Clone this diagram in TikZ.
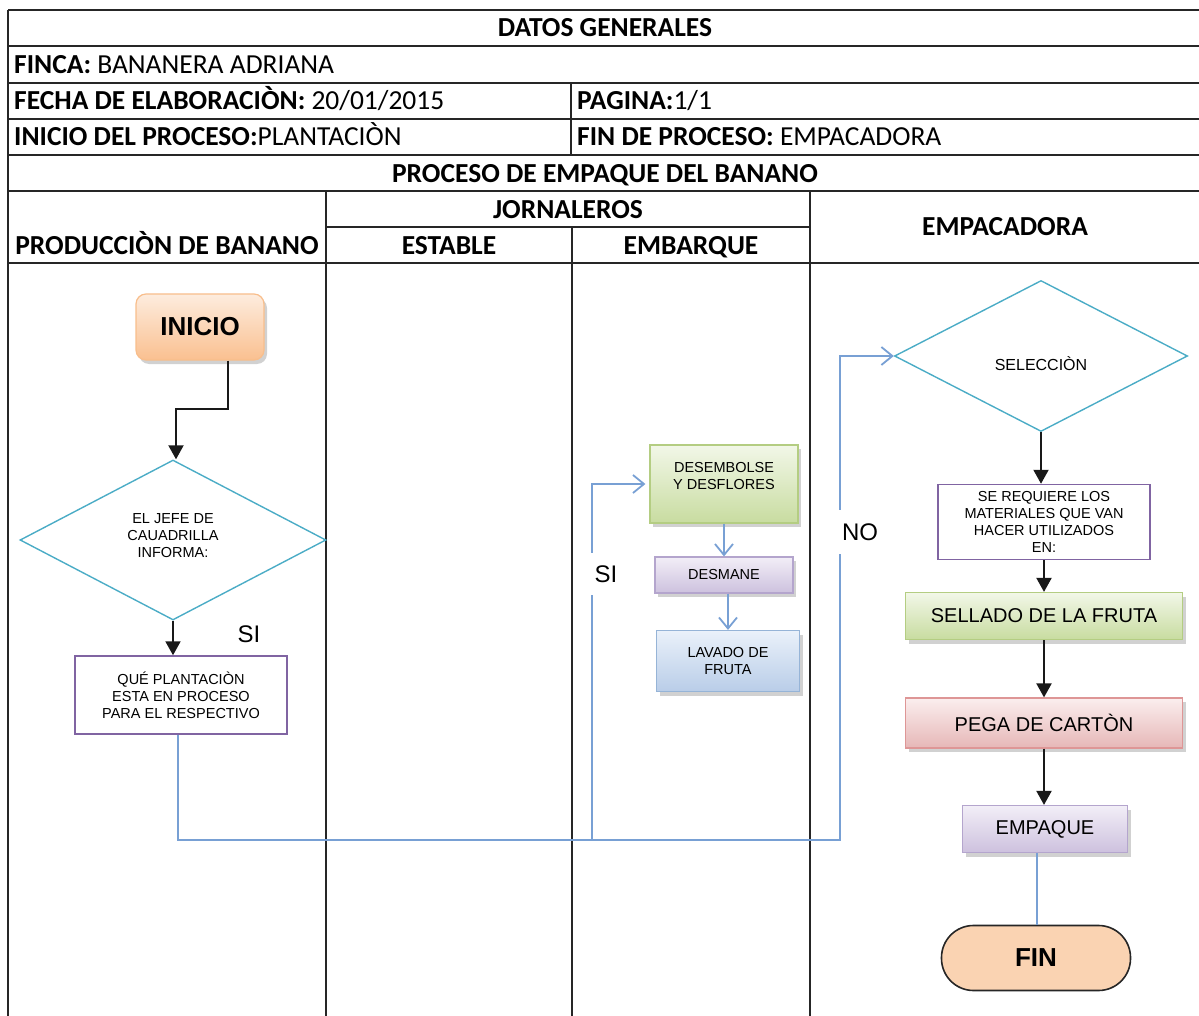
\documentclass[tikz,border=0pt]{standalone}
\usepackage{fontspec}
\setmainfont{Carlito}
\newfontfamily\arialf{Liberation Sans}
\usetikzlibrary{shapes.geometric,arrows.meta,shadows,calc}
\definecolor{cyanln}{RGB}{75,172,198}
\definecolor{purpln}{RGB}{128,100,162}
\definecolor{bluln}{RGB}{120,160,212}
\definecolor{gTop}{RGB}{242,247,232}
\definecolor{gBot}{RGB}{200,220,160}
\definecolor{gLn}{RGB}{180,205,130}
\definecolor{vTop}{RGB}{242,238,247}
\definecolor{vBot}{RGB}{205,193,222}
\definecolor{vLn}{RGB}{180,165,205}
\definecolor{bTop}{RGB}{234,241,250}
\definecolor{bBot}{RGB}{185,205,232}
\definecolor{bLn}{RGB}{150,180,215}
\definecolor{rTop}{RGB}{251,238,238}
\definecolor{rBot}{RGB}{230,183,183}
\definecolor{rLn}{RGB}{222,150,150}
\definecolor{oTop}{RGB}{253,236,222}
\definecolor{oBot}{RGB}{250,192,144}
\definecolor{oLn}{RGB}{248,190,140}
\definecolor{finFill}{RGB}{250,211,178}
\begin{document}
\begin{tikzpicture}[x=1pt,y=-1pt,
  tl/.style={line width=1.6pt, black!85},
  hb/.style={font=\fontsize{27.5}{30}\selectfont\bfseries, inner sep=0pt, anchor=base},
  hc/.style={font=\fontsize{27.5}{30}\selectfont, inner sep=0pt, anchor=base west},
  ft/.style={font=\arialf\fontsize{14.5}{17}\selectfont, align=center, inner sep=0pt},
  bigt/.style={font=\arialf\fontsize{20}{24}\selectfont, align=center, inner sep=0pt},
  dec/.style={diamond, draw=cyanln, line width=1.4pt, inner sep=0pt},
  pbox/.style={rectangle, draw=purpln, line width=1.5pt, fill=white},
  shd/.style={drop shadow={shadow xshift=3pt, shadow yshift=-4pt, opacity=0.3, fill=black!60}},
  gbox/.style={rectangle, top color=gTop, bottom color=gBot, draw=gLn, line width=1.2pt, shd},
  vbox/.style={rectangle, top color=vTop, bottom color=vBot, draw=vLn, line width=1.2pt, shd},
  bbox/.style={rectangle, top color=bTop, bottom color=bBot, draw=bLn, line width=1.2pt, shd},
  rbox/.style={rectangle, top color=rTop, bottom color=rBot, draw=rLn, line width=1.2pt, shd},
  startst/.style={rectangle, rounded corners=10pt, top color=oTop, bottom color=oBot, draw=oLn, line width=1.2pt, shd,
    minimum width=128pt, minimum height=66pt, font=\arialf\bfseries\fontsize{26}{30}\selectfont, inner sep=0pt},
  finst/.style={rectangle, rounded corners=32pt, fill=finFill, draw=black!85, line width=1.6pt,
    minimum width=189pt, minimum height=65pt, font=\arialf\bfseries\fontsize{26}{30}\selectfont, inner sep=0pt},
  blk/.style={line width=2pt, black!90, -{Triangle[length=14pt,width=15pt]}},
  blu/.style={line width=1.8pt, draw=bluln},
  bluarr/.style={blu, -{Straight Barb[length=11pt,width=18pt]}},
  lbl/.style={font=\arialf\fontsize{24}{24}\selectfont, fill=white, inner sep=2pt},
]
\useasboundingbox (0,0) rectangle (1199,1016);
% table grid
\foreach \yy in {10,46,83,119,155,191,263} \draw[tl] (8,\yy) -- (1199,\yy);
\draw[tl] (326,227) -- (810,227);
\draw[tl] (8,10) -- (8,1016);
\draw[tl] (571,83) -- (571,155);
\draw[tl] (326,191) -- (326,1016);
\draw[tl] (572,227) -- (572,1016);
\draw[tl] (810,191) -- (810,1016);
% header texts
\node[hb] (t1) at (605,37) {DATOS GENERALES};
\node[hc] (t2) at (14,74) {\textbf{FINCA:} BANANERA ADRIANA};
\node[hc] (t3) at (14,110) {\textbf{FECHA DE ELABORACIÒN:} 20/01/2015};
\node[hc] (t4) at (577,110) {\textbf{PAGINA:}1/1};
\node[hc] (t5) at (14,146) {\textbf{INICIO DEL PROCESO:}PLANTACIÒN};
\node[hc] (t6) at (577,146) {\textbf{FIN DE PROCESO:} EMPACADORA};
\node[hb] (t7) at (605,183) {PROCESO DE EMPAQUE DEL BANANO};
\node[hb] (t8) at (568,219) {JORNALEROS};
\node[hb] (t9) at (167,255) {PRODUCCIÒN DE BANANO};
\node[hb] (t10) at (449,255) {ESTABLE};
\node[hb] (t11) at (691,255) {EMBARQUE};
\node[hb] (t12) at (1005,236) {EMPACADORA};
% flow nodes
\node[startst] (ini) at (200,327) {INICIO};
\node[dec, ft, minimum width=306pt, minimum height=160pt] (d1) at (173,540) {\smash{\raisebox{1pt}{\parbox{120pt}{\centering EL JEFE DE\\CAUADRILLA\\INFORMA:}}}};
\node[pbox, ft, minimum width=212pt, minimum height=78pt] (qp) at (181,695) {QUÉ PLANTACIÒN\\ESTA EN PROCESO\\PARA EL RESPECTIVO};
\node[gbox, ft, minimum width=148pt, minimum height=78pt] (des) at (724,484) {DESEMBOLSE\\Y DESFLORES\\~};
\node[vbox, ft, minimum width=138pt, minimum height=36pt] (desm) at (724,575) {DESMANE};
\node[bbox, ft, minimum width=143pt, minimum height=61pt] (lav) at (728,661) {LAVADO DE\\FRUTA};
\node[dec, ft, font=\arialf\fontsize{16}{17}\selectfont, minimum width=293pt, minimum height=151pt] (sel) at (1041,356) {\smash{\raisebox{-14pt}{SELECCIÒN}}};
\node[pbox, ft, minimum width=212pt, minimum height=75pt] (req) at (1044,522) {SE REQUIERE LOS\\MATERIALES QUE VAN\\HACER UTILIZADOS\\EN:};
\node[gbox, bigt, minimum width=277pt, minimum height=47pt] (sell) at (1044,616) {SELLADO DE LA FRUTA};
\node[rbox, bigt, minimum width=277pt, minimum height=50pt] (peg) at (1044,723) {PEGA DE CARTÒN};
\node[vbox, bigt, minimum width=165pt, minimum height=47pt] (emp) at (1045,829) {EMPAQUE};
\node[finst] (fin) at (1036,958) {FIN};
% connectors
\draw[blk] ([xshift=28pt]ini.south) |- ($(d1.north)+(3,-50)$) -- ($(d1.north)+(3,0)$);
\draw[blk] (d1.south) -- (d1.south |- qp.north);
\draw[blk] (sel.south) -- (sel.south |- req.north);
\draw[blk] (req.south) -- (req.south |- sell.north);
\draw[blk] (sell.south) -- (sell.south |- peg.north);
\draw[blk] (peg.south) -- (peg.south |- emp.north);
\coordinate (e1) at ([xshift=-8pt]emp.south);
\draw[blu] (e1) -- (e1 |- fin.north);
\draw[bluarr] (des.south) -- (des.south |- desm.north);
\draw[bluarr] (lav.north |- desm.south) -- (lav.north);
\coordinate (j1) at (592,840);
\coordinate (j2) at (840,840);
\draw[bluarr] ([xshift=-3pt]qp.south) |- (j2) |- (sel.west);
\draw[bluarr, shorten >=4pt] (j1) |- (des.west);
% labels
\node[lbl] (si1) at (249,634) {SI};
\node[lbl, minimum height=42pt, minimum width=34pt] (si2) at (606,574) {SI};
\node[lbl, minimum height=44pt, minimum width=46pt] (no) at (860,532) {NO};
\end{tikzpicture}
\end{document}
